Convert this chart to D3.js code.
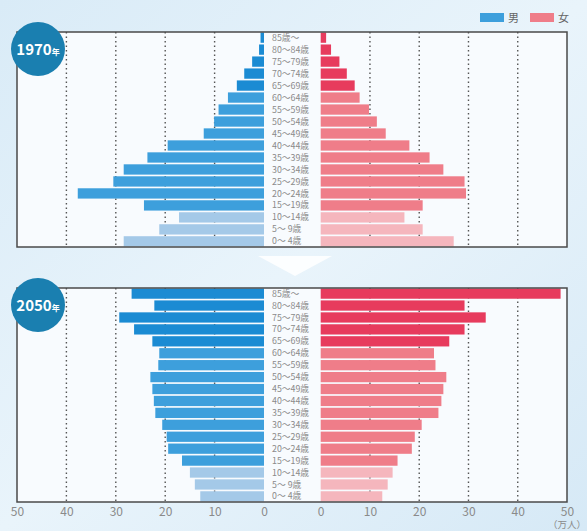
<!DOCTYPE html>
<html>
<head>
<meta charset="utf-8">
<script src="https://cdn.jsdelivr.net/npm/d3@7"></script>
<style>
  body { margin: 0; background: #fff; }
  text { font-family: "Noto Sans CJK JP", "Noto Sans", sans-serif; }
</style>
</head>
<body>
<script>
// age groups, top row first
var ages = ['85歳～', '80～84歳', '75～79歳', '70～74歳', '65～69歳', '60～64歳', '55～59歳',
  '50～54歳', '45～49歳', '40～44歳', '35～39歳', '30～34歳', '25～29歳', '20～24歳',
  '15～19歳', '10～14歳', '5～ 9歳', '0～ 4歳'];

// values in 万人, same order as ages
var male1970 = [0.7, 1.0, 2.4, 4.0, 5.5, 7.3, 9.2, 10.1, 12.2, 19.5, 23.6, 28.4, 30.5, 37.7, 24.3, 17.2, 21.2, 28.4];
var female1970 = [1.1, 2.1, 3.8, 5.3, 6.9, 7.9, 9.8, 11.4, 13.2, 18.0, 22.1, 24.9, 29.2, 29.5, 20.7, 17.0, 20.7, 27.0];
var male2050 = [26.8, 22.2, 29.3, 26.3, 22.6, 21.2, 21.4, 23.0, 22.6, 22.3, 22.0, 20.6, 19.7, 19.4, 16.6, 15.0, 14.0, 12.9];
var female2050 = [48.7, 29.2, 33.5, 29.2, 26.1, 23.0, 23.3, 25.5, 24.9, 24.5, 23.9, 20.5, 19.1, 18.5, 15.6, 14.6, 13.6, 12.5];

var ticks = [0, 10, 20, 30, 40, 50];

var width = 587, height = 531;

// colour by age band: 65+, 15-64, 0-14
function maleColor(i) { return i < 5 ? '#1b8bd3' : (i < 15 ? '#3d9fdc' : '#a4c9e8'); }
function femaleColor(i) { return i < 5 ? '#e73b5d' : (i < 15 ? '#ef7d89' : '#f5b6bd'); }

var svg = d3.select('body').append('svg').attr('width', width).attr('height', height);

// background
var defs = svg.append('defs');
var grad = defs.append('linearGradient').attr('id', 'bg').attr('x1', 0).attr('y1', 0).attr('x2', 1).attr('y2', 1);
grad.append('stop').attr('offset', '0%').attr('stop-color', '#d9ebf7');
grad.append('stop').attr('offset', '50%').attr('stop-color', '#e9f4fb');
grad.append('stop').attr('offset', '100%').attr('stop-color', '#d6e9f6');
svg.append('rect').attr('width', width).attr('height', height).attr('fill', 'url(#bg)');

var xLeft = d3.scaleLinear().domain([50, 0]).range([17, 264]);
var xRight = d3.scaleLinear().domain([0, 50]).range([320.7, 567]);

function pyramid(top, bottom, males, females, year) {
  var y = d3.scaleBand().domain(ages).range([top, bottom]).paddingInner(0.14).paddingOuter(0.04);
  var g = svg.append('g');

  g.append('rect').attr('x', 17).attr('y', top).attr('width', 550).attr('height', bottom - top)
    .attr('fill', '#f8fbfe');

  // grid lines
  ticks.filter(function (t) { return t > 0 && t < 50; }).forEach(function (t) {
    [xLeft(t), xRight(t)].forEach(function (x) {
      g.append('line').attr('x1', x).attr('x2', x).attr('y1', top).attr('y2', bottom)
        .attr('stroke', '#555').attr('stroke-width', 1.4).attr('stroke-dasharray', '1.5,3');
    });
  });

  g.selectAll('rect.m').data(males).enter().append('rect').attr('class', 'm')
    .attr('x', function (d) { return xLeft(d); })
    .attr('y', function (d, i) { return y(ages[i]); })
    .attr('width', function (d) { return xLeft(0) - xLeft(d); })
    .attr('height', y.bandwidth())
    .attr('fill', function (d, i) { return maleColor(i); });

  g.selectAll('rect.f').data(females).enter().append('rect').attr('class', 'f')
    .attr('x', xRight(0))
    .attr('y', function (d, i) { return y(ages[i]); })
    .attr('width', function (d) { return xRight(d) - xRight(0); })
    .attr('height', y.bandwidth())
    .attr('fill', function (d, i) { return femaleColor(i); });

  g.selectAll('text.age').data(ages).enter().append('text').attr('class', 'age')
    .attr('x', 272)
    .attr('y', function (d) { return y(d) + y.bandwidth() / 2; })
    .attr('dy', '0.35em')
    .attr('font-size', 8.8)
    .attr('fill', '#8a8a8a')
    .text(function (d) { return d; });

  g.append('rect').attr('x', 17).attr('y', top).attr('width', 550).attr('height', bottom - top)
    .attr('fill', 'none').attr('stroke', '#4a4a4a').attr('stroke-width', 1.5);

  // year badge
  var badge = g.append('g').attr('transform', 'translate(38,' + (top + 17) + ')');
  badge.append('circle').attr('r', 27).attr('fill', '#1a7fb0');
  var t = badge.append('text').attr('text-anchor', 'middle').attr('dy', '0.35em').attr('fill', '#fff')
    .attr('font-weight', 'bold');
  t.append('tspan').attr('font-size', 15).text(year);
  t.append('tspan').attr('font-size', 8).text('年');
}

pyramid(32, 247, male1970, female1970, '1970');
pyramid(288, 502, male2050, female2050, '2050');

// arrow between the two pyramids
svg.append('path')
  .attr('d', 'M258,256 L332,256 L295,276 Z')
  .attr('fill', '#ffffff').attr('opacity', 0.85);

// bottom axes
var axisL = d3.axisBottom(xLeft).tickValues(ticks).tickSize(0).tickPadding(4);
var axisR = d3.axisBottom(xRight).tickValues(ticks).tickSize(0).tickPadding(4);
[axisL, axisR].forEach(function (a) {
  var ax = svg.append('g').attr('transform', 'translate(0,503)').call(a);
  ax.select('.domain').remove();
  ax.selectAll('text').attr('fill', '#8a8a8a').attr('font-size', 12)
    .attr('font-family', '"Noto Sans", sans-serif');
});
svg.append('text').attr('x', 586).attr('y', 528).attr('text-anchor', 'end')
  .attr('font-size', 9.5).attr('fill', '#8a8a8a').text('（万人）');

// legend
var legend = [['男', '#3d9fdc', 480], ['女', '#ef7d89', 530]];
legend.forEach(function (l) {
  svg.append('rect').attr('x', l[2]).attr('y', 13).attr('width', 24).attr('height', 9).attr('fill', l[1]);
  svg.append('text').attr('x', l[2] + 28).attr('y', 18).attr('dy', '0.35em')
    .attr('font-size', 11).attr('fill', '#666').text(l[0]);
});
</script>
</body>
</html>
